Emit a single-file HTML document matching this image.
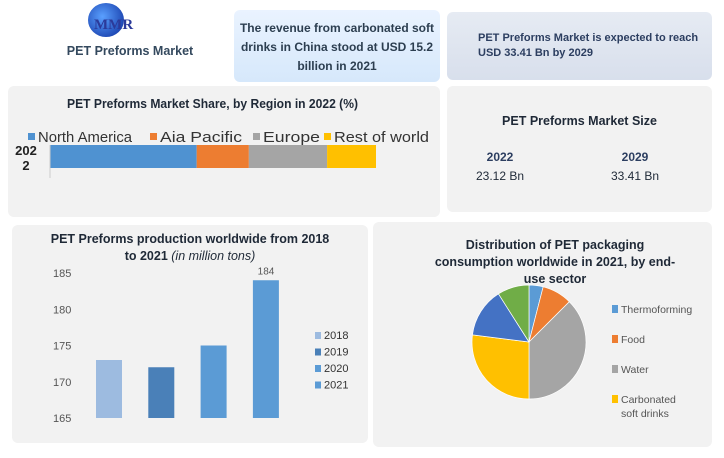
<!DOCTYPE html>
<html><head><meta charset="utf-8"><style>
body{margin:0;width:724px;height:458px;background:#fff;font-family:"Liberation Sans",sans-serif;position:relative;overflow:hidden}
.p{position:absolute;border-radius:6px}
.t{position:absolute;color:#1f2937;font-weight:bold;text-align:center;white-space:nowrap}
svg{position:absolute;left:0;top:0}
</style></head><body>
<div style="position:absolute;left:88px;top:3px;width:36px;height:34px;border-radius:50%;background:radial-gradient(circle at 40% 40%,#5aa0ff,#0a2a9a)"></div>
<div style="position:absolute;left:94px;top:17px;font:bold 15px 'Liberation Serif',serif;color:#2b3a9a">MMR</div>
<div class="t" style="left:40px;top:44px;width:180px;font-size:12.5px;color:#34495e">PET Preforms Market</div>
<div class="p" style="left:234px;top:10px;width:206px;height:72px;background:linear-gradient(#eaf3ff,#d6e8fb)"></div>
<div class="t" style="left:238px;top:19px;width:198px;font-size:12px;line-height:19px;color:#2c3e50">The revenue from carbonated soft<br>drinks in China stood at USD 15.2<br>billion in 2021</div>
<div class="p" style="left:447px;top:12px;width:265px;height:68px;background:linear-gradient(#e6ebf3,#d8dfec)"></div>
<div class="t" style="left:478px;top:31px;width:232px;font-size:11px;line-height:15px;text-align:left;color:#2c3e60">PET Preforms Market is expected to reach<br>USD 33.41 Bn by 2029</div>
<div class="p" style="left:8px;top:86px;width:432px;height:131px;background:#f2f2f2"></div>
<div class="p" style="left:447px;top:86px;width:265px;height:126px;background:#f2f2f2"></div>
<div class="t" style="left:447px;top:114px;width:265px;font-size:12.5px">PET Preforms Market Size</div>
<div class="t" style="left:440px;top:150px;width:120px;font-size:12px;color:#2c3e60">2022</div>
<div class="t" style="left:440px;top:169px;width:120px;font-size:12px;font-weight:normal">23.12 Bn</div>
<div class="t" style="left:575px;top:150px;width:120px;font-size:12px;color:#2c3e60">2029</div>
<div class="t" style="left:575px;top:169px;width:120px;font-size:12px;font-weight:normal">33.41 Bn</div>
<div class="p" style="left:12px;top:225px;width:356px;height:218px;background:#f2f2f2"></div>
<div class="t" style="left:20px;top:231px;width:340px;font-size:12.5px;line-height:17px">PET Preforms production worldwide from 2018<br>to 2021 <i style="font-weight:normal">(in million tons)</i></div>
<div class="p" style="left:373px;top:222px;width:339px;height:225px;background:#f2f2f2"></div>
<div class="t" style="left:410px;top:237px;width:290px;font-size:12.5px;line-height:17px">Distribution of PET packaging<br>consumption worldwide in 2021, by end-<br>use sector</div>
<svg id="s" width="724" height="458"></svg>
<script>
const regionNames=["North America","Aia Pacific","Europe","Rest of world"];
const regionShares=[45,16,24,15];
const prodYears=["2018","2019","2020","2021"];
const prodValues=[173,172,175,184];
const prodTicks=[165,170,175,180,185];
const pieNames=["Thermoforming","Food","Water","Carbonated soft drinks","Other A","Other B"];
const pieValues=[4,8.5,37.5,27,14,9];
const NS="http://www.w3.org/2000/svg",s=document.getElementById('s');
function mk(t,a,txt){const e=document.createElementNS(NS,t);for(const k in a)e.setAttribute(k,a[k]);if(txt!=null)e.textContent=txt;s.appendChild(e);return e;}
let rt=mk('text',{x:67,y:108,'font-size':12.5,'font-weight':'bold',fill:'#1f2937',textLength:291,lengthAdjust:'spacingAndGlyphs'},'PET Preforms Market Share, by Region in 2022 (%)');

const rc=["#4f92d1","#ed7d31","#a5a5a5","#ffc000"];
const sx=v=>50+v*3.26;let cum=0;
const lx=[28,150,253,324];
regionNames.forEach((n,i)=>{
 let r=mk('rect',{x:sx(cum),y:145,width:regionShares[i]*3.26,height:23,fill:rc[i]});
 
 cum+=regionShares[i];
 let l=mk('rect',{x:lx[i],y:133,width:7,height:7,fill:rc[i]});
 let t=mk('text',{x:lx[i]+10,y:142,'font-size':15,fill:'#333',textLength:[94,82,57,95][i],lengthAdjust:'spacingAndGlyphs'},n);
});
mk('line',{x1:50,y1:145,x2:50,y2:178,stroke:'#ccc'});
let yl=mk('text',{x:26,y:155,'font-size':13,'font-weight':'bold','text-anchor':'middle',fill:'#222'},'202');
mk('text',{x:26,y:170,'font-size':13,'font-weight':'bold','text-anchor':'middle',fill:'#222'},'2');
const by=v=>418-(v-165)*7.25;
prodTicks.forEach(v=>{let t=mk('text',{x:53,y:by(v)+4,'font-size':11,fill:'#555'},v);});
const bc=["#9dbbe0","#4a80b8","#5b9bd5","#5b9bd5"];
prodValues.forEach((v,i)=>{
 let r=mk('rect',{x:96+i*52.3,y:by(v),width:26,height:by(165)-by(v),fill:bc[i]});
 let l=mk('rect',{x:315,y:332+i*16.5,width:6,height:7,fill:bc[i]});
 let t=mk('text',{x:324,y:339+i*16.5,'font-size':11,fill:'#333'},prodYears[i]);
});
let vl=mk('text',{x:266,y:by(prodValues[3])-6,'font-size':10,'text-anchor':'middle',fill:'#555'},prodValues[3]);
const pc=["#5b9bd5","#ed7d31","#a5a5a5","#ffc000","#4472c4","#70ad47"];
const cx=529,cy=342,R=57,tot=pieValues.reduce((a,b)=>a+b,0);let a0=0;
pieValues.forEach((v,i)=>{
 const a1=a0+v/tot*2*Math.PI;
 const p=(a)=>[cx+R*Math.sin(a),cy-R*Math.cos(a)];
 const [x0,y0]=p(a0),[x1,y1]=p(a1);
 let e=mk('path',{d:`M${cx},${cy}L${x0},${y0}A${R},${R} 0 ${a1-a0>Math.PI?1:0} 1 ${x1},${y1}Z`,fill:pc[i],stroke:'#fff','stroke-width':0.7});
 
 a0=a1;
});
const lg=[["Thermoforming",313],["Food",343],["Water",373],["Carbonated",403],["soft drinks",417]];
[0,1,2,3].forEach(i=>{let r=mk('rect',{x:612,y:lg[i][1]-8,width:6,height:8,fill:pc[i]});});
lg.forEach(([t,y])=>{let e=mk('text',{x:621,y:y,'font-size':10.5,fill:'#555'},t);});
</script>
</body></html>
